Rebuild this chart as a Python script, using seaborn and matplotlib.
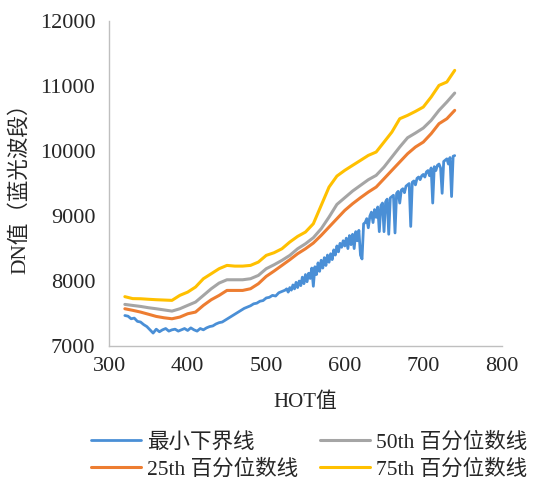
import numpy as np
import pandas as pd
import seaborn as sns
import matplotlib.pyplot as plt

# HOT values for the percentile curves
hot = [320, 330, 340, 350, 360, 370, 380, 390, 400, 410, 420, 430, 440, 450,
       460, 470, 480, 490, 500, 510, 520, 530, 540, 550, 560, 570, 580, 590,
       600, 610, 620, 630, 640, 650, 660, 670, 680, 690, 700, 710, 720, 730, 740]

p75 = [7760, 7730, 7728, 7720, 7713, 7708, 7703, 7780, 7830, 7908, 8036, 8113,
       8190, 8241, 8230, 8230, 8241, 8292, 8395, 8436, 8497, 8600, 8687, 8754,
       8882, 9164, 9446, 9615, 9703, 9780, 9856, 9933, 9985, 10138, 10292,
       10497, 10549, 10610, 10677, 10831, 11010, 11062, 11241]

p50 = [7641, 7625, 7610, 7590, 7574, 7556, 7538, 7574, 7626, 7677, 7779, 7882,
       7969, 8020, 8020, 8020, 8036, 8087, 8190, 8251, 8318, 8395, 8497, 8574,
       8667, 8805, 8985, 9179, 9282, 9385, 9472, 9559, 9626, 9754, 9908,
       10062, 10205, 10277, 10354, 10472, 10626, 10754, 10892]

p25 = [7574, 7550, 7523, 7490, 7456, 7435, 7420, 7446, 7497, 7523, 7626, 7713,
       7779, 7856, 7856, 7856, 7882, 7959, 8072, 8154, 8241, 8328, 8421, 8497,
       8585, 8703, 8831, 8959, 9087, 9190, 9282, 9369, 9446, 9574, 9703,
       9831, 9959, 10062, 10138, 10267, 10421, 10497, 10626]

# minimum lower bound line (noisy), step 4 up to 524 then step 2
hot_min = list(range(320, 525, 4)) + list(range(526, 741, 2))
vmin = [7470, 7460, 7420, 7430, 7380, 7370, 7330, 7300, 7250, 7200, 7260, 7220,
        7250, 7270, 7230, 7250, 7260, 7230, 7250, 7270, 7240, 7280, 7250, 7230,
        7270, 7250, 7280, 7300, 7310, 7340, 7360, 7370, 7400, 7430, 7460, 7490,
        7520, 7550, 7580, 7600, 7620, 7650, 7660, 7690, 7700, 7740, 7750, 7780,
        7770, 7820, 7840, 7860,
        7880, 7830, 7900, 7860, 7940, 7880, 7980, 7900, 8000, 7930,
        8060, 7960, 8100, 7990, 8120, 8040, 8200, 7920, 8220, 8100,
        8280, 8150, 8320, 8200, 8360, 8240, 8400, 8290, 8420, 8330,
        8480, 8400, 8540, 8450, 8580, 8520, 8620, 8540, 8660, 8500,
        8700, 8560, 8720, 8500, 8760, 8620, 8780, 8400, 8340, 8880,
        8900, 8960, 8820, 9000, 9060, 8900, 9100, 8980, 9140, 8760,
        9160, 9200, 8760, 9220, 9260, 8720, 9280, 9300, 9320, 8740,
        9350, 9380, 9200, 9400, 9420, 9360, 9460, 9480, 9500, 8840,
        9520, 9540, 9480, 9580, 9600, 9560, 9620, 9640, 9600, 9680,
        9700, 9620, 9740, 9200, 9760, 9700, 9780, 9800, 9740, 9350,
        9840, 9860, 9880, 9800, 9900, 9300, 9920, 9930]

labels = ["最小下界线", "25th 百分位数线", "50th 百分位数线", "75th 百分位数线"]
colors = ["#4a8fd6", "#ed7d31", "#a5a5a5", "#ffc000"]

sns.set_style("white")
plt.rcParams['font.family'] = ['Liberation Serif', 'Noto Sans CJK SC']

fig = plt.figure(figsize=(5.35, 4.78), dpi=100)
ax = fig.add_axes([0.204, 0.276, 0.734, 0.680])

sns.lineplot(x=hot_min, y=vmin, ax=ax, color=colors[0], lw=2.0, label=labels[0])
sns.lineplot(x=hot, y=p25, ax=ax, color=colors[1], lw=2.2, label=labels[1])
sns.lineplot(x=hot, y=p50, ax=ax, color=colors[2], lw=2.2, label=labels[2])
sns.lineplot(x=hot, y=p75, ax=ax, color=colors[3], lw=2.2, label=labels[3])

ax.set_xlim(300, 800)
ax.set_ylim(7000, 12000)
ax.set_xticks([300, 400, 500, 600, 700, 800])
ax.set_yticks([7000, 8000, 9000, 10000, 11000, 12000])
ax.tick_params(labelsize=16, direction='in', length=4, color='#e3e3e3')
ax.tick_params(axis='x', pad=8)
ax.tick_params(axis='y', pad=10)
sns.despine(ax=ax)
for s in ['left', 'bottom']:
    ax.spines[s].set_color('#bfbfbf')
    ax.spines[s].set_linewidth(1.0)

ax.set_xlabel("HOT值", fontsize=15, labelpad=12)
ax.set_ylabel("DN值（蓝光波段）", fontsize=15.5, labelpad=7)

ax.legend(loc='upper center', bbox_to_anchor=(0.51, -0.205), ncol=2, frameon=False,
          fontsize=15.5, handlelength=2.3, columnspacing=1.0, labelspacing=0.3,
          handletextpad=0.3)

fig.savefig("out.png", dpi=100)
